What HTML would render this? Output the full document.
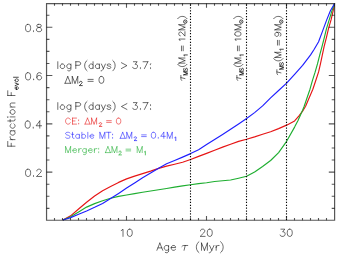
<!DOCTYPE html>
<html><head><meta charset="utf-8"><title>plot</title>
<style>html,body{margin:0;padding:0;background:#fff;font-family:"Liberation Sans",sans-serif}svg{display:block}</style></head>
<body><svg width="349" height="258" viewBox="0 0 349 258">
<rect width="349" height="258" fill="#fff"/>
<g fill="none" stroke-width="1.15" stroke-linejoin="round" stroke-linecap="butt">
<polyline stroke="#e61414" points="62.90,220.00 70.60,215.86 78.60,209.00 86.60,202.20 94.60,195.95 102.60,190.70 110.60,186.60 118.60,182.40 126.60,178.90 134.60,176.10 142.60,173.60 150.60,171.10 158.60,168.40 166.60,166.10 174.60,164.20 182.60,162.20 190.60,159.55 198.60,156.40 206.60,153.40 214.60,150.20 222.60,147.15 230.60,144.20 238.60,141.40 246.60,139.30 254.60,136.90 262.60,134.30 270.60,131.70 278.60,128.65 286.60,125.15 294.60,120.90 298.98,115.80 302.60,111.20 305.60,106.20 309.20,97.70 310.60,94.50 312.85,89.20 315.70,80.70 318.60,71.90 320.50,63.70 322.30,55.20 324.10,46.70 326.40,37.60 328.50,28.70 331.10,19.70 333.20,10.70 334.60,3.50"/>
<polyline stroke="#1eae30" points="62.90,220.00 70.60,216.70 78.60,211.90 86.60,207.10 94.60,203.60 102.60,200.80 110.60,198.25 118.60,196.40 126.60,195.00 134.60,193.60 142.60,192.20 150.60,191.00 158.60,189.80 166.60,188.55 174.60,187.15 182.60,185.85 190.60,184.80 198.60,183.60 206.60,182.70 214.60,181.50 222.60,180.80 230.60,179.95 238.60,178.20 246.60,176.30 254.60,171.95 262.60,166.50 270.60,160.50 278.60,152.55 286.60,141.30 294.60,127.10 298.00,120.60 300.70,114.40 302.60,110.20 304.20,106.20 307.07,97.70 310.00,89.20 312.40,80.70 315.10,72.20 317.55,63.70 319.70,55.20 322.00,46.70 324.30,37.70 326.50,28.70 329.25,19.70 332.00,10.70 334.60,3.50"/>
<polyline stroke="#1e1eff" points="62.90,220.00 70.60,217.60 78.60,214.30 86.60,210.95 94.60,207.30 102.60,203.40 110.60,198.60 118.60,193.40 126.60,188.10 134.60,182.90 142.60,177.80 150.60,173.00 158.60,168.20 166.60,163.80 174.60,160.50 182.60,157.10 190.60,153.60 198.60,149.80 206.60,144.60 214.60,139.50 222.60,134.50 230.60,129.30 238.60,123.90 246.60,118.50 254.60,112.60 262.60,105.90 270.60,97.90 278.60,90.50 286.60,83.20 294.60,74.30 302.60,65.40 310.60,54.90 314.20,49.30 318.60,41.80 322.65,30.85 326.70,19.90 330.40,10.70 334.60,3.50"/>
</g>
<line x1="190.50" y1="3.50" x2="190.50" y2="220.00" stroke="#000" stroke-width="1.1" stroke-dasharray="1.25 1.61" stroke-dashoffset="1.875"/>
<line x1="246.50" y1="3.50" x2="246.50" y2="220.00" stroke="#000" stroke-width="1.1" stroke-dasharray="1.25 1.61" stroke-dashoffset="1.875"/>
<line x1="286.50" y1="3.50" x2="286.50" y2="220.00" stroke="#000" stroke-width="1.1" stroke-dasharray="1.25 1.61" stroke-dashoffset="1.875"/>
<path d="M45.95 3.55H335.20M45.95 220.25H335.20M46.55 3.55V220.25M334.60 3.55V220.25" fill="none" stroke="#000" stroke-width="1.2" stroke-opacity="0.66"/>
<path d="M54.50 220.25v-2.20M54.50 3.55v2.20M62.50 220.25v-2.20M62.50 3.55v2.20M70.50 220.25v-2.20M70.50 3.55v2.20M78.50 220.25v-2.20M78.50 3.55v2.20M86.50 220.25v-2.20M86.50 3.55v2.20M94.50 220.25v-2.20M94.50 3.55v2.20M102.50 220.25v-2.20M102.50 3.55v2.20M110.50 220.25v-2.20M110.50 3.55v2.20M118.50 220.25v-2.20M118.50 3.55v2.20M126.50 220.25v-4.30M126.50 3.55v4.30M134.50 220.25v-2.20M134.50 3.55v2.20M142.50 220.25v-2.20M142.50 3.55v2.20M150.50 220.25v-2.20M150.50 3.55v2.20M158.50 220.25v-2.20M158.50 3.55v2.20M166.50 220.25v-2.20M166.50 3.55v2.20M174.50 220.25v-2.20M174.50 3.55v2.20M182.50 220.25v-2.20M182.50 3.55v2.20M190.50 220.25v-2.20M190.50 3.55v2.20M198.50 220.25v-2.20M198.50 3.55v2.20M206.50 220.25v-4.30M206.50 3.55v4.30M214.50 220.25v-2.20M214.50 3.55v2.20M222.50 220.25v-2.20M222.50 3.55v2.20M230.50 220.25v-2.20M230.50 3.55v2.20M238.50 220.25v-2.20M238.50 3.55v2.20M246.50 220.25v-2.20M246.50 3.55v2.20M254.50 220.25v-2.20M254.50 3.55v2.20M262.50 220.25v-2.20M262.50 3.55v2.20M270.50 220.25v-2.20M270.50 3.55v2.20M278.50 220.25v-2.20M278.50 3.55v2.20M286.50 220.25v-4.30M286.50 3.55v4.30M294.50 220.25v-2.20M294.50 3.55v2.20M302.50 220.25v-2.20M302.50 3.55v2.20M310.50 220.25v-2.20M310.50 3.55v2.20M318.50 220.25v-2.20M318.50 3.55v2.20M326.50 220.25v-2.20M326.50 3.55v2.20M46.55 208.33h2.90M334.60 208.33h-2.90M46.55 196.26h2.90M334.60 196.26h-2.90M46.55 184.19h2.90M334.60 184.19h-2.90M46.55 172.12h5.80M334.60 172.12h-5.80M46.55 160.05h2.90M334.60 160.05h-2.90M46.55 147.98h2.90M334.60 147.98h-2.90M46.55 135.91h2.90M334.60 135.91h-2.90M46.55 123.84h5.80M334.60 123.84h-5.80M46.55 111.77h2.90M334.60 111.77h-2.90M46.55 99.70h2.90M334.60 99.70h-2.90M46.55 87.63h2.90M334.60 87.63h-2.90M46.55 75.56h5.80M334.60 75.56h-5.80M46.55 63.49h2.90M334.60 63.49h-2.90M46.55 51.42h2.90M334.60 51.42h-2.90M46.55 39.35h2.90M334.60 39.35h-2.90M46.55 27.28h5.80M334.60 27.28h-5.80M46.55 15.21h2.90M334.60 15.21h-2.90" fill="none" stroke="#000" stroke-width="1.1" stroke-opacity="0.66"/>
<circle cx="185.25" cy="21.65" r="1.7" fill="none" stroke="#000" stroke-width="0.85" stroke-opacity="0.85"/><circle cx="185.25" cy="21.65" r="0.55" fill="#000" fill-opacity="0.7"/>
<circle cx="241.25" cy="21.65" r="1.7" fill="none" stroke="#000" stroke-width="0.85" stroke-opacity="0.85"/><circle cx="241.25" cy="21.65" r="0.55" fill="#000" fill-opacity="0.7"/>
<circle cx="281.25" cy="21.65" r="1.7" fill="none" stroke="#000" stroke-width="0.85" stroke-opacity="0.85"/><circle cx="281.25" cy="21.65" r="0.55" fill="#000" fill-opacity="0.7"/>
<path d="M121.23 230.53L121.94 230.19L123.01 229.16L123.01 236.40M129.40 229.16L128.33 229.50L127.62 230.53L127.27 232.26L127.27 233.30L127.62 235.02L128.33 236.06L129.40 236.40L130.10 236.40L131.17 236.06L131.88 235.02L132.24 233.30L132.24 232.26L131.88 230.53L131.17 229.50L130.10 229.16L129.40 229.16M200.52 230.88L200.52 230.53L200.88 229.84L201.23 229.50L201.94 229.16L203.36 229.16L204.07 229.50L204.42 229.84L204.78 230.53L204.78 231.22L204.42 231.92L203.71 232.95L200.16 236.40L205.13 236.40M209.39 229.16L208.33 229.50L207.62 230.53L207.26 232.26L207.26 233.30L207.62 235.02L208.33 236.06L209.39 236.40L210.10 236.40L211.17 236.06L211.88 235.02L212.23 233.30L212.23 232.26L211.88 230.53L211.17 229.50L210.10 229.16L209.39 229.16M280.88 229.16L284.78 229.16L282.65 231.92L283.71 231.92L284.43 232.26L284.78 232.61L285.13 233.64L285.13 234.33L284.78 235.37L284.07 236.06L283.00 236.40L281.94 236.40L280.88 236.06L280.52 235.71L280.16 235.02M289.39 229.16L288.33 229.50L287.62 230.53L287.26 232.26L287.26 233.30L287.62 235.02L288.33 236.06L289.39 236.40L290.10 236.40L291.17 236.06L291.88 235.02L292.24 233.30L292.24 232.26L291.88 230.53L291.17 229.50L290.10 229.16L289.39 229.16M27.69 169.22L26.59 169.57L25.86 170.60L25.50 172.33L25.50 173.37L25.86 175.09L26.59 176.12L27.69 176.47L28.42 176.47L29.52 176.12L30.25 175.09L30.62 173.37L30.62 172.33L30.25 170.60L29.52 169.57L28.42 169.22L27.69 169.22M33.55 175.78L33.18 176.12L33.55 176.47L33.91 176.12L33.55 175.78M36.84 170.95L36.84 170.60L37.21 169.91L37.57 169.57L38.31 169.22L39.77 169.22L40.50 169.57L40.87 169.91L41.23 170.60L41.23 171.29L40.87 171.99L40.14 173.02L36.48 176.47L41.60 176.47M27.33 120.94L26.23 121.29L25.50 122.33L25.13 124.05L25.13 125.08L25.50 126.81L26.23 127.84L27.33 128.19L28.06 128.19L29.16 127.84L29.89 126.81L30.25 125.08L30.25 124.05L29.89 122.33L29.16 121.29L28.06 120.94L27.33 120.94M33.18 127.50L32.82 127.84L33.18 128.19L33.55 127.84L33.18 127.50M39.77 120.94L36.11 125.77L41.60 125.77M39.77 120.94L39.77 128.19M27.69 72.66L26.59 73.01L25.86 74.05L25.50 75.77L25.50 76.80L25.86 78.53L26.59 79.56L27.69 79.91L28.42 79.91L29.52 79.56L30.25 78.53L30.62 76.80L30.62 75.77L30.25 74.05L29.52 73.01L28.42 72.66L27.69 72.66M33.55 79.22L33.18 79.56L33.55 79.91L33.91 79.56L33.55 79.22M41.23 73.70L40.87 73.01L39.77 72.66L39.04 72.66L37.94 73.01L37.21 74.05L36.84 75.77L36.84 77.49L37.21 78.88L37.94 79.56L39.04 79.91L39.40 79.91L40.50 79.56L41.23 78.88L41.60 77.84L41.60 77.49L41.23 76.46L40.50 75.77L39.40 75.42L39.04 75.42L37.94 75.77L37.21 76.46L36.84 77.49M27.69 24.39L26.59 24.73L25.86 25.77L25.50 27.49L25.50 28.53L25.86 30.25L26.59 31.29L27.69 31.63L28.42 31.63L29.52 31.29L30.25 30.25L30.62 28.53L30.62 27.49L30.25 25.77L29.52 24.73L28.42 24.39L27.69 24.39M33.55 30.94L33.18 31.29L33.55 31.63L33.91 31.29L33.55 30.94M38.31 24.39L37.21 24.73L36.84 25.42L36.84 26.11L37.21 26.80L37.94 27.15L39.40 27.49L40.50 27.84L41.23 28.53L41.60 29.22L41.60 30.25L41.23 30.94L40.87 31.29L39.77 31.63L38.31 31.63L37.21 31.29L36.84 30.94L36.48 30.25L36.48 29.22L36.84 28.53L37.57 27.84L38.67 27.49L40.14 27.15L40.87 26.80L41.23 26.11L41.23 25.42L40.87 24.73L39.77 24.39L38.31 24.39M159.83 243.06L156.90 250.30M159.83 243.06L162.76 250.30M158.00 247.89L161.66 247.89M168.61 245.47L168.61 250.99L168.25 252.03L167.88 252.37L167.15 252.72L166.05 252.72L165.32 252.37M168.61 246.51L167.88 245.81L167.15 245.47L166.05 245.47L165.32 245.81L164.59 246.51L164.22 247.54L164.22 248.23L164.59 249.27L165.32 249.96L166.05 250.30L167.15 250.30L167.88 249.96L168.61 249.27M171.17 247.54L175.57 247.54L175.57 246.85L175.20 246.16L174.83 245.81L174.10 245.47L173.00 245.47L172.27 245.81L171.54 246.51L171.17 247.54L171.17 248.23L171.54 249.27L172.27 249.96L173.00 250.30L174.10 250.30L174.83 249.96L175.57 249.27M185.19 245.47L184.10 250.30M181.90 246.51L182.63 245.81L183.73 245.47L187.76 245.47M198.96 241.68L198.23 242.37L197.50 243.40L196.77 244.78L196.40 246.51L196.40 247.89L196.77 249.61L197.50 250.99L198.23 252.03L198.96 252.72M201.52 243.06L201.52 250.30M201.52 243.06L204.45 250.30M207.38 243.06L204.45 250.30M207.38 243.06L207.38 250.30M209.58 245.47L211.77 250.30M213.97 245.47L211.77 250.30L211.04 251.68L210.31 252.37L209.58 252.72L209.21 252.72M216.16 245.47L216.16 250.30M216.16 247.54L216.53 246.51L217.26 245.81L217.99 245.47L219.09 245.47M220.56 241.68L221.29 242.37L222.02 243.40L222.75 244.78L223.12 246.51L223.12 247.89L222.75 249.61L222.02 250.99L221.29 252.03L220.56 252.72M7.76 146.20L15.00 146.20M7.76 146.20L7.76 141.44M11.21 146.20L11.21 143.27M10.17 139.61L15.00 139.61M12.24 139.61L11.21 139.25L10.52 138.51L10.17 137.78L10.17 136.68M10.17 130.83L15.00 130.83M11.21 130.83L10.52 131.56L10.17 132.29L10.17 133.39L10.52 134.12L11.21 134.85L12.24 135.22L12.93 135.22L13.96 134.85L14.65 134.12L15.00 133.39L15.00 132.29L14.66 131.56L13.97 130.83M11.21 123.87L10.52 124.61L10.17 125.34L10.17 126.44L10.52 127.17L11.21 127.90L12.24 128.27L12.93 128.27L13.97 127.90L14.66 127.17L15.00 126.44L15.00 125.34L14.66 124.61L13.97 123.87M7.76 120.95L13.62 120.95L14.66 120.58L15.00 119.85L15.00 119.12M10.17 122.04L10.17 119.48M7.76 117.29L8.10 116.92L7.76 116.55L7.41 116.92L7.76 117.29M10.17 116.92L15.00 116.92M10.17 112.53L10.52 113.26L11.21 113.99L12.24 114.36L12.93 114.36L13.97 113.99L14.66 113.26L15.00 112.53L15.00 111.43L14.66 110.70L13.97 109.97L12.93 109.60L12.24 109.60L11.21 109.97L10.52 110.70L10.17 111.43L10.17 112.53M10.17 107.04L15.00 107.04M11.55 107.04L10.52 105.94L10.17 105.21L10.17 104.11L10.52 103.38L11.55 103.01L15.00 103.01M7.76 95.50L15.00 95.50M7.76 95.50L7.76 90.74M11.21 95.50L11.21 92.57M57.80 61.72L57.80 68.55M61.94 64.00L61.25 64.33L60.56 64.97L60.21 65.95L60.21 66.60L60.56 67.58L61.25 68.22L61.94 68.55L62.97 68.55L63.66 68.22L64.35 67.58L64.70 66.60L64.70 65.95L64.35 64.97L63.66 64.33L62.97 64.00L61.94 64.00M70.91 64.00L70.91 69.20L70.56 70.17L70.22 70.50L69.53 70.83L68.49 70.83L67.80 70.50M70.91 64.97L70.22 64.33L69.53 64.00L68.49 64.00L67.80 64.33L67.11 64.97L66.77 65.95L66.77 66.60L67.11 67.58L67.80 68.22L68.49 68.55L69.53 68.55L70.22 68.22L70.91 67.58M75.80 61.72L75.80 68.55M75.80 61.72L78.91 61.72L79.94 62.05L80.29 62.38L80.63 63.02L80.63 64.00L80.29 64.65L79.94 64.97L78.91 65.30L75.80 65.30M87.04 60.42L86.37 61.07L85.70 62.05L85.03 63.35L84.70 64.97L84.70 66.27L85.03 67.90L85.70 69.20L86.37 70.17L87.04 70.83M93.05 61.72L93.05 68.55M93.05 64.97L92.38 64.33L91.71 64.00L90.71 64.00L90.04 64.33L89.38 64.97L89.04 65.95L89.04 66.60L89.38 67.58L90.04 68.22L90.71 68.55L91.71 68.55L92.38 68.22L93.05 67.58M99.39 64.00L99.39 68.55M99.39 64.97L98.73 64.33L98.06 64.00L97.06 64.00L96.39 64.33L95.72 64.97L95.39 65.95L95.39 66.60L95.72 67.58L96.39 68.22L97.06 68.55L98.06 68.55L98.73 68.22L99.39 67.58M101.40 64.00L103.40 68.55M105.41 64.00L103.40 68.55L102.73 69.85L102.07 70.50L101.40 70.83L101.06 70.83M110.75 64.97L110.41 64.33L109.41 64.00L108.41 64.00L107.41 64.33L107.08 64.97L107.41 65.62L108.08 65.95L109.75 66.27L110.41 66.60L110.75 67.25L110.75 67.58L110.41 68.22L109.41 68.55L108.41 68.55L107.41 68.22L107.08 67.58M112.75 60.42L113.42 61.07L114.09 62.05L114.76 63.35L115.09 64.97L115.09 66.27L114.76 67.90L114.09 69.20L113.42 70.17L112.75 70.83M121.40 62.70L126.92 65.62L121.40 68.55M133.39 61.72L137.19 61.72L135.12 64.33L136.15 64.33L136.84 64.65L137.19 64.97L137.53 65.95L137.53 66.60L137.19 67.58L136.50 68.22L135.46 68.55L134.43 68.55L133.39 68.22L133.05 67.90L132.70 67.25M140.29 67.90L139.95 68.22L140.29 68.55L140.64 68.22L140.29 67.90M147.88 61.72L144.43 68.55M143.05 61.72L147.88 61.72M150.64 64.00L150.30 64.33L150.64 64.65L150.99 64.33L150.64 64.00M150.64 67.90L150.30 68.22L150.64 68.55L150.99 68.22L150.64 67.90M67.76 76.47L65.00 83.30M67.76 76.47L70.52 83.30M65.00 83.30L70.52 83.30M72.25 76.47L72.25 83.30M72.25 76.47L75.00 83.30M77.77 76.47L75.00 83.30M77.77 76.47L77.77 83.30M88.00 79.40L93.17 79.40M88.00 81.35L93.17 81.35M101.07 76.47L100.03 76.80L99.34 77.77L99.00 79.40L99.00 80.38L99.34 82.00L100.03 82.97L101.07 83.30L101.76 83.30L102.80 82.97L103.48 82.00L103.83 80.38L103.83 79.40L103.48 77.77L102.80 76.80L101.76 76.47L101.07 76.47M57.80 102.62L57.80 109.45M61.94 104.90L61.25 105.23L60.56 105.88L60.21 106.85L60.21 107.50L60.56 108.48L61.25 109.12L61.94 109.45L62.97 109.45L63.66 109.12L64.35 108.48L64.70 107.50L64.70 106.85L64.35 105.88L63.66 105.23L62.97 104.90L61.94 104.90M70.91 104.90L70.91 110.10L70.56 111.08L70.22 111.40L69.53 111.73L68.49 111.73L67.80 111.40M70.91 105.88L70.22 105.23L69.53 104.90L68.49 104.90L67.80 105.23L67.11 105.88L66.77 106.85L66.77 107.50L67.11 108.48L67.80 109.12L68.49 109.45L69.53 109.45L70.22 109.12L70.91 108.48M75.80 102.62L75.80 109.45M75.80 102.62L78.91 102.62L79.94 102.95L80.29 103.28L80.63 103.92L80.63 104.90L80.29 105.55L79.94 105.88L78.91 106.20L75.80 106.20M87.04 101.33L86.37 101.98L85.70 102.95L85.03 104.25L84.70 105.88L84.70 107.17L85.03 108.80L85.70 110.10L86.37 111.08L87.04 111.73M93.05 102.62L93.05 109.45M93.05 105.88L92.38 105.23L91.71 104.90L90.71 104.90L90.04 105.23L89.38 105.88L89.04 106.85L89.04 107.50L89.38 108.48L90.04 109.12L90.71 109.45L91.71 109.45L92.38 109.12L93.05 108.48M99.39 104.90L99.39 109.45M99.39 105.88L98.73 105.23L98.06 104.90L97.06 104.90L96.39 105.23L95.72 105.88L95.39 106.85L95.39 107.50L95.72 108.48L96.39 109.12L97.06 109.45L98.06 109.45L98.73 109.12L99.39 108.48M101.40 104.90L103.40 109.45M105.41 104.90L103.40 109.45L102.73 110.75L102.07 111.40L101.40 111.73L101.06 111.73M110.75 105.88L110.41 105.23L109.41 104.90L108.41 104.90L107.41 105.23L107.08 105.88L107.41 106.53L108.08 106.85L109.75 107.17L110.41 107.50L110.75 108.15L110.75 108.48L110.41 109.12L109.41 109.45L108.41 109.45L107.41 109.12L107.08 108.48M112.75 101.33L113.42 101.98L114.09 102.95L114.76 104.25L115.09 105.88L115.09 107.17L114.76 108.80L114.09 110.10L113.42 111.08L112.75 111.73M126.92 103.60L121.40 106.53L126.92 109.45M133.39 102.62L137.19 102.62L135.12 105.23L136.15 105.23L136.84 105.55L137.19 105.88L137.53 106.85L137.53 107.50L137.19 108.48L136.50 109.12L135.46 109.45L134.43 109.45L133.39 109.12L133.05 108.80L132.70 108.15M140.29 108.80L139.95 109.12L140.29 109.45L140.64 109.12L140.29 108.80M147.88 102.62L144.43 109.45M143.05 102.62L147.88 102.62M150.64 104.90L150.30 105.23L150.64 105.55L150.99 105.23L150.64 104.90M150.64 108.80L150.30 109.12L150.64 109.45L150.99 109.12L150.64 108.80M180.89 77.62L184.95 78.58M181.76 80.50L181.18 79.86L180.89 78.90L180.89 75.38M177.70 64.31L178.28 64.95L179.15 65.59L180.31 66.23L181.76 66.55L182.92 66.55L184.37 66.23L185.53 65.59L186.40 64.95L186.98 64.31M178.86 63.15L184.95 63.15M178.86 63.15L184.95 60.59M178.86 58.03L184.95 60.59M178.86 58.03L184.95 58.03M181.47 50.80L181.47 46.00M183.21 50.80L183.21 46.00M180.02 40.65L179.73 40.01L178.86 39.05L184.95 39.05M180.31 35.83L180.02 35.83L179.44 35.51L179.15 35.19L178.86 34.55L178.86 33.27L179.15 32.63L179.44 32.31L180.02 31.99L180.60 31.99L181.18 32.31L182.05 32.95L184.95 36.15L184.95 31.67M178.86 29.85L184.95 29.85M178.86 29.85L184.95 27.29M178.86 24.73L184.95 27.29M178.86 24.73L184.95 24.73M177.70 18.65L178.28 18.01L179.15 17.37L180.31 16.73L181.76 16.41L182.92 16.41L184.37 16.73L185.53 17.37L186.40 18.01L186.98 18.65M236.89 77.62L240.95 78.58M237.76 80.50L237.18 79.86L236.89 78.90L236.89 75.38M233.70 64.31L234.28 64.95L235.15 65.59L236.31 66.23L237.76 66.55L238.92 66.55L240.37 66.23L241.53 65.59L242.40 64.95L242.98 64.31M234.86 63.15L240.95 63.15M234.86 63.15L240.95 60.59M234.86 58.03L240.95 60.59M234.86 58.03L240.95 58.03M237.47 50.80L237.47 46.00M239.21 50.80L239.21 46.00M236.02 40.65L235.73 40.01L234.86 39.05L240.95 39.05M234.86 34.23L235.15 35.19L236.02 35.83L237.47 36.15L238.34 36.15L239.79 35.83L240.66 35.19L240.95 34.23L240.95 33.59L240.66 32.63L239.79 31.99L238.34 31.67L237.47 31.67L236.02 31.99L235.15 32.63L234.86 33.59L234.86 34.23M234.86 29.85L240.95 29.85M234.86 29.85L240.95 27.29M234.86 24.73L240.95 27.29M234.86 24.73L240.95 24.73M233.70 18.65L234.28 18.01L235.15 17.37L236.31 16.73L237.76 16.41L238.92 16.41L240.37 16.73L241.53 17.37L242.40 18.01L242.98 18.65M276.89 71.92L280.95 72.88M277.76 74.80L277.18 74.16L276.89 73.20L276.89 69.68M273.70 58.61L274.28 59.25L275.15 59.89L276.31 60.53L277.76 60.85L278.92 60.85L280.37 60.53L281.53 59.89L282.40 59.25L282.98 58.61M274.86 57.45L280.95 57.45M274.86 57.45L280.95 54.89M274.86 52.33L280.95 54.89M274.86 52.33L280.95 52.33M277.47 45.10L277.47 40.30M279.21 45.10L279.21 40.30M276.89 32.29L277.76 32.61L278.34 33.25L278.63 34.21L278.63 34.53L278.34 35.49L277.76 36.13L276.89 36.45L276.60 36.45L275.73 36.13L275.15 35.49L274.86 34.53L274.86 34.21L275.15 33.25L275.73 32.61L276.89 32.29L278.34 32.29L279.79 32.61L280.66 33.25L280.95 34.21L280.95 34.85L280.66 35.81L280.08 36.13M274.86 29.85L280.95 29.85M274.86 29.85L280.95 27.29M274.86 24.73L280.95 27.29M274.86 24.73L280.95 24.73M273.70 18.65L274.28 18.01L275.15 17.37L276.31 16.73L277.76 16.41L278.92 16.41L280.37 16.73L281.53 17.37L282.40 18.01L282.98 18.65" fill="none" stroke="#000" stroke-width="0.68" stroke-linecap="round" stroke-linejoin="round" stroke-opacity="0.85"/>
<path d="M70.30 119.52L69.98 118.95L69.36 118.38L68.73 118.09L67.48 118.09L66.85 118.38L66.23 118.95L65.91 119.52L65.60 120.38L65.60 121.81L65.91 122.67L66.23 123.24L66.85 123.81L67.48 124.10L68.73 124.10L69.36 123.81L69.98 123.24L70.30 122.67M72.49 118.09L72.49 124.10M72.49 118.09L76.56 118.09M72.49 120.95L74.99 120.95M72.49 124.10L76.56 124.10M78.75 120.10L78.43 120.38L78.75 120.67L79.06 120.38L78.75 120.10M78.75 123.53L78.43 123.81L78.75 124.10L79.06 123.81L78.75 123.53M87.50 118.09L85.00 124.10M87.50 118.09L90.01 124.10M85.00 124.10L90.01 124.10M91.57 118.09L91.57 124.10M91.57 118.09L94.08 124.10M96.58 118.09L94.08 124.10M96.58 118.09L96.58 124.10M106.60 120.67L111.30 120.67M106.60 122.38L111.30 122.38M118.28 118.09L117.34 118.38L116.71 119.24L116.40 120.67L116.40 121.53L116.71 122.96L117.34 123.81L118.28 124.10L118.90 124.10L119.84 123.81L120.47 122.96L120.78 121.53L120.78 120.67L120.47 119.24L119.84 118.38L118.90 118.09L118.28 118.09" fill="none" stroke="#e61414" stroke-width="0.68" stroke-linecap="round" stroke-linejoin="round" stroke-opacity="0.85"/>
<path d="M65.60 146.59L65.60 152.60M65.60 146.59L68.10 152.60M70.61 146.59L68.10 152.60M70.61 146.59L70.61 152.60M72.80 150.31L76.56 150.31L76.56 149.74L76.24 149.17L75.93 148.88L75.30 148.60L74.36 148.60L73.74 148.88L73.11 149.45L72.80 150.31L72.80 150.88L73.11 151.74L73.74 152.31L74.36 152.60L75.30 152.60L75.93 152.31L76.56 151.74M78.75 148.60L78.75 152.60M78.75 150.31L79.06 149.45L79.69 148.88L80.31 148.60L81.25 148.60M86.26 148.60L86.26 153.17L85.95 154.03L85.63 154.32L85.01 154.60L84.07 154.60L83.44 154.32M86.26 149.45L85.63 148.88L85.01 148.60L84.07 148.60L83.44 148.88L82.82 149.45L82.50 150.31L82.50 150.88L82.82 151.74L83.44 152.31L84.07 152.60L85.01 152.60L85.63 152.31L86.26 151.74M88.45 150.31L92.21 150.31L92.21 149.74L91.89 149.17L91.58 148.88L90.95 148.60L90.01 148.60L89.39 148.88L88.76 149.45L88.45 150.31L88.45 150.88L88.76 151.74L89.39 152.31L90.01 152.60L90.95 152.60L91.58 152.31L92.21 151.74M94.40 148.60L94.40 152.60M94.40 150.31L94.71 149.45L95.34 148.88L95.96 148.60L96.90 148.60M98.78 148.60L98.47 148.88L98.78 149.17L99.09 148.88L98.78 148.60M98.78 152.03L98.47 152.31L98.78 152.60L99.09 152.31L98.78 152.03M107.90 146.59L105.40 152.60M107.90 146.59L110.41 152.60M105.40 152.60L110.41 152.60M111.97 146.59L111.97 152.60M111.97 146.59L114.48 152.60M116.98 146.59L114.48 152.60M116.98 146.59L116.98 152.60M126.00 149.17L130.69 149.17M126.00 150.88L130.69 150.88M137.20 146.59L137.20 152.60M137.20 146.59L139.70 152.60M142.21 146.59L139.70 152.60M142.21 146.59L142.21 152.60" fill="none" stroke="#1eae30" stroke-width="0.68" stroke-linecap="round" stroke-linejoin="round" stroke-opacity="0.85"/>
<path d="M69.98 133.15L69.36 132.58L68.42 132.29L67.17 132.29L66.23 132.58L65.60 133.15L65.60 133.72L65.91 134.30L66.23 134.58L66.85 134.87L68.73 135.44L69.36 135.73L69.67 136.01L69.98 136.58L69.98 137.44L69.36 138.01L68.42 138.30L67.17 138.30L66.23 138.01L65.60 137.44M72.49 132.29L72.49 137.16L72.80 138.01L73.43 138.30L74.05 138.30M71.55 134.30L73.74 134.30M79.37 134.30L79.37 138.30M79.37 135.15L78.75 134.58L78.12 134.30L77.18 134.30L76.56 134.58L75.93 135.15L75.62 136.01L75.62 136.58L75.93 137.44L76.56 138.01L77.18 138.30L78.12 138.30L78.75 138.01L79.37 137.44M81.88 132.29L81.88 138.30M81.88 135.15L82.50 134.58L83.13 134.30L84.07 134.30L84.69 134.58L85.32 135.15L85.63 136.01L85.63 136.58L85.32 137.44L84.69 138.01L84.07 138.30L83.13 138.30L82.50 138.01L81.88 137.44M87.82 132.29L87.82 138.30M90.01 136.01L93.77 136.01L93.77 135.44L93.46 134.87L93.14 134.58L92.52 134.30L91.58 134.30L90.95 134.58L90.33 135.15L90.01 136.01L90.01 136.58L90.33 137.44L90.95 138.01L91.58 138.30L92.52 138.30L93.14 138.01L93.77 137.44M99.90 132.29L99.90 138.30M99.90 132.29L102.40 138.30M104.91 132.29L102.40 138.30M104.91 132.29L104.91 138.30M108.66 132.29L108.66 138.30M106.47 132.29L110.86 132.29M112.73 134.30L112.42 134.58L112.73 134.87L113.05 134.58L112.73 134.30M112.73 137.73L112.42 138.01L112.73 138.30L113.05 138.01L112.73 137.73M122.70 132.29L120.20 138.30M122.70 132.29L125.21 138.30M120.20 138.30L125.21 138.30M126.77 132.29L126.77 138.30M126.77 132.29L129.28 138.30M131.78 132.29L129.28 138.30M131.78 132.29L131.78 138.30M141.60 134.87L146.29 134.87M141.60 136.58L146.29 136.58M153.18 132.29L152.24 132.58L151.61 133.44L151.30 134.87L151.30 135.73L151.61 137.16L152.24 138.01L153.18 138.30L153.80 138.30L154.74 138.01L155.37 137.16L155.68 135.73L155.68 134.87L155.37 133.44L154.74 132.58L153.80 132.29L153.18 132.29M158.19 137.73L157.87 138.01L158.19 138.30L158.50 138.01L158.19 137.73M163.82 132.29L160.69 136.30L165.39 136.30M163.82 132.29L163.82 138.30M167.26 132.29L167.26 138.30M167.26 132.29L169.77 138.30M172.27 132.29L169.77 138.30M172.27 132.29L172.27 138.30" fill="none" stroke="#1e1eff" stroke-width="0.68" stroke-linecap="round" stroke-linejoin="round" stroke-opacity="0.85"/>
<path d="M16.48 89.50L16.48 86.78L16.02 86.78L15.57 87.00L15.34 87.23L15.11 87.68L15.11 88.37L15.34 88.82L15.80 89.27L16.48 89.50L16.93 89.50L17.62 89.27L18.07 88.82L18.30 88.37L18.30 87.68L18.07 87.23L17.62 86.78M15.11 85.64L18.30 84.28M15.11 82.92L18.30 84.28M15.11 80.65L15.34 81.10L15.80 81.56L16.48 81.78L16.93 81.78L17.62 81.56L18.07 81.10L18.30 80.65L18.30 79.97L18.07 79.52L17.62 79.06L16.93 78.83L16.48 78.83L15.80 79.06L15.34 79.52L15.11 79.97L15.11 80.65M13.52 77.25L18.30 77.25M79.51 82.38L79.51 82.17L79.73 81.77L79.94 81.57L80.37 81.37L81.23 81.37L81.65 81.57L81.87 81.77L82.08 82.17L82.08 82.58L81.87 82.98L81.44 83.58L79.30 85.60L82.29 85.60M183.70 74.85L187.35 74.85M183.70 74.85L187.35 73.31M183.70 71.78L187.35 73.31M183.70 71.78L187.35 71.78M184.22 68.26L183.87 68.65L183.70 69.22L183.70 69.99L183.87 70.57L184.22 70.95L184.57 70.95L184.91 70.76L185.09 70.57L185.26 70.18L185.61 69.03L185.78 68.65L185.96 68.45L186.31 68.26L186.83 68.26L187.18 68.65L187.35 69.22L187.35 69.99L187.18 70.57L186.83 70.95M184.39 55.90L184.22 55.52L183.70 54.94L187.35 54.94M239.70 74.85L243.35 74.85M239.70 74.85L243.35 73.31M239.70 71.78L243.35 73.31M239.70 71.78L243.35 71.78M240.22 68.26L239.87 68.65L239.70 69.22L239.70 69.99L239.87 70.57L240.22 70.95L240.57 70.95L240.91 70.76L241.09 70.57L241.26 70.18L241.61 69.03L241.78 68.65L241.96 68.45L242.31 68.26L242.83 68.26L243.18 68.65L243.35 69.22L243.35 69.99L243.18 70.57L242.83 70.95M240.39 55.90L240.22 55.52L239.70 54.94L243.35 54.94M279.70 69.15L283.35 69.15M279.70 69.15L283.35 67.61M279.70 66.08L283.35 67.61M279.70 66.08L283.35 66.08M280.22 62.56L279.87 62.95L279.70 63.52L279.70 64.29L279.87 64.87L280.22 65.25L280.57 65.25L280.91 65.06L281.09 64.87L281.26 64.48L281.61 63.33L281.78 62.95L281.96 62.75L282.31 62.56L282.83 62.56L283.18 62.95L283.35 63.52L283.35 64.29L283.18 64.87L282.83 65.25M280.39 50.20L280.22 49.82L279.70 49.24L283.35 49.24" fill="none" stroke="#000" stroke-width="0.80" stroke-linecap="round" stroke-linejoin="round" stroke-opacity="0.9"/>
<path d="M99.29 123.56L99.29 123.39L99.49 123.03L99.68 122.85L100.07 122.68L100.85 122.68L101.23 122.85L101.43 123.03L101.62 123.39L101.62 123.74L101.43 124.09L101.04 124.63L99.10 126.40L101.82 126.40" fill="none" stroke="#e61414" stroke-width="0.80" stroke-linecap="round" stroke-linejoin="round" stroke-opacity="0.9"/>
<path d="M118.89 152.06L118.89 151.89L119.09 151.53L119.28 151.35L119.67 151.18L120.45 151.18L120.83 151.35L121.03 151.53L121.22 151.89L121.22 152.24L121.03 152.59L120.64 153.13L118.70 154.90L121.42 154.90M144.40 151.89L144.79 151.71L145.37 151.18L145.37 154.90" fill="none" stroke="#1eae30" stroke-width="0.80" stroke-linecap="round" stroke-linejoin="round" stroke-opacity="0.9"/>
<path d="M134.19 137.76L134.19 137.59L134.39 137.23L134.58 137.05L134.97 136.88L135.75 136.88L136.13 137.05L136.33 137.23L136.52 137.59L136.52 137.94L136.33 138.29L135.94 138.83L134.00 140.60L136.72 140.60M174.80 137.59L175.19 137.41L175.77 136.88L175.77 140.60" fill="none" stroke="#1e1eff" stroke-width="0.80" stroke-linecap="round" stroke-linejoin="round" stroke-opacity="0.9"/>
</svg></body></html>
